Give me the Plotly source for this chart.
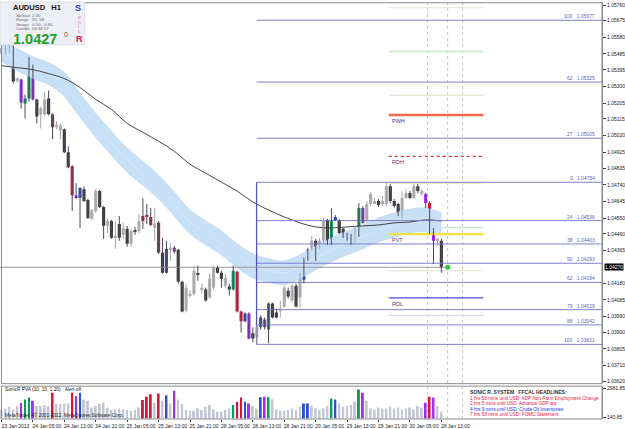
import plotly.graph_objects as go

# ---------------- data ----------------
bar_idx = list(range(113))
opens = [
    1.05487, 1.05487, 1.05509, 1.05514, 1.05333, 1.05339, 1.05203, 1.05231, 1.05418, 1.05226,
    1.05141, 1.05141, 1.05231, 1.05141, 1.05067, 1.05050, 1.05056, 1.04925, 1.04846, 1.04681,
    1.04664, 1.04715, 1.04653, 1.04545, 1.04591, 1.04704, 1.04613, 1.04506, 1.04534, 1.04438,
    1.04517, 1.04455, 1.04489, 1.04404, 1.04483, 1.04477, 1.04562, 1.04568, 1.04557, 1.04494,
    1.04523, 1.04353, 1.04239, 1.04370, 1.04381, 1.04370, 1.04188, 1.04024, 1.04109, 1.04120,
    1.04234, 1.04143, 1.04143, 1.04098, 1.04154, 1.04268, 1.04239, 1.04165, 1.04160, 1.04143,
    1.04245, 1.04018, 1.03962, 1.04007, 1.03894, 1.03871, 1.03928, 1.03973, 1.03916, 1.04064,
    1.04013, 1.04024, 1.04047, 1.04137, 1.04081, 1.04165, 1.04098, 1.04199, 1.04313, 1.04375,
    1.04421, 1.04381, 1.04421, 1.04534, 1.04404, 1.04540, 1.04534, 1.04489, 1.04460, 1.04449,
    1.04409, 1.04449, 1.04608, 1.04534, 1.04630, 1.04636, 1.04647, 1.04630, 1.04630, 1.04732,
    1.04647, 1.04630, 1.04562, 1.04664, 1.04693, 1.04664, 1.04732, 1.04687, 1.04687, 1.04636,
    1.04489, 1.04421, 1.04421]
highs = [
    1.05531, 1.05537, 1.05548, 1.05537, 1.05350, 1.05345, 1.05254, 1.05469, 1.05424, 1.05231,
    1.05186, 1.05271, 1.05277, 1.05146, 1.05101, 1.05090, 1.05061, 1.04959, 1.04851, 1.04749,
    1.04727, 1.04732, 1.04659, 1.04602, 1.04715, 1.04710, 1.04619, 1.04545, 1.04540, 1.04534,
    1.04562, 1.04523, 1.04506, 1.04489, 1.04500, 1.04574, 1.04664, 1.04630, 1.04608, 1.04608,
    1.04534, 1.04438, 1.04421, 1.04409, 1.04392, 1.04375, 1.04194, 1.04177, 1.04137, 1.04279,
    1.04279, 1.04177, 1.04154, 1.04234, 1.04279, 1.04279, 1.04251, 1.04234, 1.04177, 1.04279,
    1.04251, 1.04024, 1.04013, 1.04013, 1.03928, 1.03939, 1.03996, 1.03984, 1.04069, 1.04069,
    1.04035, 1.04081, 1.04165, 1.04154, 1.04177, 1.04177, 1.04239, 1.04324, 1.04381, 1.04449,
    1.04432, 1.04438, 1.04551, 1.04545, 1.04608, 1.04568, 1.04545, 1.04494, 1.04466, 1.04460,
    1.04506, 1.04636, 1.04619, 1.04647, 1.04698, 1.04664, 1.04659, 1.04676, 1.04754, 1.04744,
    1.04659, 1.04636, 1.04704, 1.04715, 1.04704, 1.04744, 1.04744, 1.04715, 1.04693, 1.04647,
    1.04494, 1.04438, 1.04432]
lows = [
    1.05475, 1.05481, 1.05492, 1.05317, 1.05322, 1.05174, 1.05118, 1.05214, 1.05220, 1.05090,
    1.05061, 1.05129, 1.05135, 1.04999, 1.05056, 1.04999, 1.04920, 1.04834, 1.04591, 1.04659,
    1.04494, 1.04642, 1.04545, 1.04540, 1.04579, 1.04608, 1.04432, 1.04466, 1.04432, 1.04375,
    1.04421, 1.04432, 1.04387, 1.04387, 1.04455, 1.04466, 1.04489, 1.04517, 1.04506, 1.04421,
    1.04347, 1.04234, 1.04234, 1.04307, 1.04347, 1.04177, 1.04013, 1.04013, 1.04098, 1.04109,
    1.04194, 1.04120, 1.04075, 1.04092, 1.04143, 1.04234, 1.04154, 1.04154, 1.04109, 1.04137,
    1.04013, 1.03899, 1.03956, 1.03860, 1.03843, 1.03831, 1.03916, 1.03916, 1.03837, 1.03979,
    1.03979, 1.03984, 1.04041, 1.04092, 1.04069, 1.04041, 1.04041, 1.04177, 1.04307, 1.04364,
    1.04307, 1.04375, 1.04409, 1.04398, 1.04398, 1.04534, 1.04460, 1.04438, 1.04421, 1.04398,
    1.04404, 1.04443, 1.04517, 1.04523, 1.04619, 1.04630, 1.04613, 1.04619, 1.04619, 1.04636,
    1.04608, 1.04562, 1.04551, 1.04659, 1.04659, 1.04659, 1.04693, 1.04676, 1.04608, 1.04460,
    1.04290, 1.04392, 1.04239]
closes = [
    1.05520, 1.05514, 1.05537, 1.05328, 1.05345, 1.05208, 1.05231, 1.05424, 1.05226, 1.05129,
    1.05174, 1.05226, 1.05141, 1.05067, 1.05084, 1.05078, 1.04925, 1.04840, 1.04681, 1.04664,
    1.04721, 1.04647, 1.04551, 1.04596, 1.04704, 1.04613, 1.04506, 1.04534, 1.04438, 1.04449,
    1.04438, 1.04494, 1.04404, 1.04477, 1.04472, 1.04534, 1.04534, 1.04557, 1.04511, 1.04517,
    1.04353, 1.04239, 1.04375, 1.04381, 1.04358, 1.04188, 1.04018, 1.04154, 1.04115, 1.04251,
    1.04228, 1.04154, 1.04081, 1.04205, 1.04268, 1.04239, 1.04205, 1.04211, 1.04143, 1.04251,
    1.04018, 1.03962, 1.04007, 1.03865, 1.03865, 1.03928, 1.03984, 1.03928, 1.04064, 1.03984,
    1.03984, 1.04035, 1.04154, 1.04103, 1.04165, 1.04047, 1.04234, 1.04313, 1.04370, 1.04421,
    1.04319, 1.04421, 1.04534, 1.04404, 1.04534, 1.04557, 1.04466, 1.04449, 1.04432, 1.04409,
    1.04460, 1.04608, 1.04523, 1.04630, 1.04687, 1.04647, 1.04625, 1.04647, 1.04732, 1.04647,
    1.04619, 1.04574, 1.04664, 1.04693, 1.04664, 1.04732, 1.04704, 1.04704, 1.04636, 1.04489,
    1.04421, 1.04432, 1.04270]
# PVA class per bar: g=normal up, k=normal down, r=climax bear, G=climax bull, b=rising bull, p=rising bear
pva = list("gggkgpGGpk" "ggkrggkkrp" "bkkggkkgkg" "kgkgkgrrrg" "rkbgpkkggg"
           "kgkggkkgkG" "rrbpkgbpGk" "kggkgkgbbg" "kggkGbkkkk" "gGpgggkggk"
           "kkggkgkgpr" "pgk")
volume = [
    823, 987, 1150, 889, 1215, 1542, 1869, 2065, 1738, 1215,
    1215, 1313, 1215, 2522, 1411, 1411, 1477, 1477, 2522, 2195,
    2522, 1869, 1738, 1085, 1215, 1411, 1542, 1085, 823, 889,
    987, 889, 823, 758, 823, 1085, 1803, 2130, 2391, 1542,
    2457, 1738, 2293, 1477, 2718, 1869, 1411, 823, 758, 758,
    987, 823, 1150, 1313, 889, 660, 660, 823, 987, 1313,
    1640, 2065, 1640, 1477, 1215, 987, 2097, 2130, 2097, 1869,
    889, 758, 758, 823, 987, 823, 1150, 1477, 1477, 1215,
    987, 823, 987, 1215, 1967, 1869, 1477, 1150, 1215, 1313,
    1640, 2849, 2522, 1738, 987, 889, 1085, 987, 987, 1150,
    987, 1085, 889, 987, 1085, 889, 1215, 1085, 1542, 2130,
    2065, 1215, 660]

band_x = list(range(0, 113, 4))
band_hi = [1.05554, 1.05515, 1.05469, 1.05435, 1.05379, 1.05260, 1.05146, 1.05044, 1.04948, 1.04874,
           1.04795, 1.04698, 1.04596, 1.04534, 1.04477, 1.04404, 1.04347, 1.04319, 1.04307, 1.04341,
           1.04392, 1.04438, 1.04477, 1.04511, 1.04551, 1.04579, 1.04602, 1.04608, 1.04579]
band_lo = [1.05441, 1.05390, 1.05345, 1.05311, 1.05243, 1.05124, 1.05010, 1.04908, 1.04812, 1.04738,
           1.04659, 1.04562, 1.04460, 1.04398, 1.04341, 1.04268, 1.04211, 1.04183, 1.04171, 1.04205,
           1.04256, 1.04302, 1.04341, 1.04375, 1.04415, 1.04443, 1.04466, 1.04472, 1.04455]
band_mid = [1.05498, 1.05452, 1.05407, 1.05373, 1.05311, 1.05192, 1.05078, 1.04976, 1.04880, 1.04806,
            1.04727, 1.04630, 1.04528, 1.04466, 1.04409, 1.04336, 1.04279, 1.04251, 1.04239, 1.04273,
            1.04324, 1.04370, 1.04409, 1.04443, 1.04483, 1.04511, 1.04534, 1.04540, 1.04517]
ma_slow = [1.05418, 1.05407, 1.05396, 1.05373, 1.05345, 1.05294, 1.05226, 1.05169, 1.05090, 1.05039,
           1.04988, 1.04931, 1.04857, 1.04806, 1.04755, 1.04704, 1.04642, 1.04596, 1.04557, 1.04523,
           1.04500, 1.04494, 1.04500, 1.04506, 1.04511, 1.04523, 1.04528, 1.04540, 1.04534]

fib_anchor_bar = 65
fib_levels = ["100", "62", "27", "0", "24", "38", "50", "62", "79", "88", "100"]
fib_prices = [1.05677, 1.05325, 1.05005, 1.04754, 1.04536, 1.04403, 1.04293, 1.04184, 1.04029, 1.03942, 1.03831]

level_names = ["PWH", "RDH", "PVT", "RDL"]
level_prices = [1.05137, 1.04902, 1.04459, 1.04096]
aux_prices = [1.05749, 1.05499, 1.05250, 1.04748, 1.04496, 1.04251, 1.03996]

bid_price = 1.04270
price_ticks = [1.05760, 1.05675, 1.05580, 1.05485, 1.05395, 1.05300, 1.05205, 1.05115, 1.05020,
               1.04925, 1.04835, 1.04740, 1.04645, 1.04550, 1.04460, 1.04365, 1.04180, 1.04085,
               1.03990, 1.03900, 1.03805, 1.03710, 1.03620]
vol_ticks = [140.85, 2981.85]
time_tick_bars = [0, 8, 16, 24, 32, 40, 48, 56, 64, 72, 80, 88, 96, 104, 112]
time_tick_labels = ["23 Jan 2013", "24 Jan 05:00", "24 Jan 13:00", "24 Jan 21:00", "25 Jan 05:00",
                    "25 Jan 13:00", "25 Jan 21:00", "28 Jan 05:00", "28 Jan 13:00", "28 Jan 21:00",
                    "29 Jan 05:00", "29 Jan 13:00", "29 Jan 21:00", "30 Jan 05:00", "28 Jan 13:00"]
headlines = ["1 hrs 53 mins until USD: ADP Non-Farm Employment Change",
             "2 hrs 5 mins until USD: Advance GDP q/q",
             "4 hrs 9 mins until USD: Crude Oil Inventories",
             "7 hrs 53 mins until USD: FOMC Statement"]

# ---------------- styling ----------------
FONT = "Liberation Sans, Arial, sans-serif"
PLOT_R, PLOT_B = 604.0, 419.0
def px(x): return x / PLOT_R
def py(y): return (PLOT_B - y) / PLOT_B

candle_col = {"g": "#b2b2b2", "k": "#3a3a3a", "r": "#dc143c", "G": "#0a9a5e",
              "b": "#2b4fd8", "p": "#a22cf0"}
vol_col = {"g": "#c3c7d3", "k": "#c3c7d3", "r": "#dc143c", "G": "#0a9a5e",
           "b": "#2b4fd8", "p": "#a22cf0"}
XMIN, XMAX = -0.38, 152.9
PIV_FROM, PIV_TO = 98.6, 122.7

fig = go.Figure()

# dragon band
fig.add_trace(go.Scatter(x=band_x, y=band_lo, mode="lines", line=dict(width=0.6, color="#b3d3f1", shape="spline"),
                         hoverinfo="skip", yaxis="y"))
fig.add_trace(go.Scatter(x=band_x, y=band_hi, mode="lines", line=dict(width=0.6, color="#b3d3f1", shape="spline"),
                         fill="tonexty", fillcolor="#c8e0f6", hoverinfo="skip", yaxis="y"))
fig.add_trace(go.Scatter(x=band_x, y=band_mid, mode="lines", line=dict(width=0.6, color="#deedfb", shape="spline"),
                         hoverinfo="skip", yaxis="y"))
# slow MA
fig.add_trace(go.Scatter(x=band_x, y=ma_slow, mode="lines", line=dict(width=0.9, color="#303030", shape="spline"),
                         hoverinfo="skip", yaxis="y"))

# pivot auxiliary faint lines
aux_cols = ["#e9e5d8", "#bdeebd", "#e9e5d8", "#efeac2", "#bdeebd", "#e9e5d8", "#dadaf2"]
aux_start = [PIV_FROM, PIV_FROM, PIV_FROM, PIV_FROM, 112.1, PIV_FROM, PIV_FROM]
for p, c, s in zip(aux_prices, aux_cols, aux_start):
    fig.add_trace(go.Scatter(x=[s, PIV_TO], y=[p, p], mode="lines", line=dict(width=1.4, color=c),
                             hoverinfo="skip", yaxis="y"))

# fibonacci
fx, fy = [], []
for p in fib_prices:
    fx += [fib_anchor_bar - 0.05, XMAX, None]
    fy += [p, p, None]
fig.add_trace(go.Scatter(x=fx, y=fy, mode="lines", line=dict(width=1, color="#7f7fd2"),
                         hoverinfo="skip", yaxis="y"))
fig.add_trace(go.Scatter(x=[fib_anchor_bar - 0.05] * 2, y=[fib_prices[3], fib_prices[-1]], mode="lines",
                         line=dict(width=1.3, color="#5555b5"), hoverinfo="skip", yaxis="y"))

# pivot levels
lvl_style = {"PWH": ("#f4694e", 2.6, "solid"), "RDH": ("#e03030", 1.2, "dot"),
             "PVT": ("#f2e23a", 2.2, "solid"), "RDL": ("#4a4ad0", 1.4, "solid")}
for n, p in zip(level_names, level_prices):
    c, w, d = lvl_style[n]
    fig.add_trace(go.Scatter(x=[PIV_FROM, PIV_TO], y=[p, p], mode="lines", line=dict(width=w, color=c, dash=d),
                             hoverinfo="skip", yaxis="y"))

# bid line
fig.add_trace(go.Scatter(x=[XMIN, 113.1], y=[bid_price, bid_price], mode="lines",
                         line=dict(width=1, color="#9a9a9a"), hoverinfo="skip", yaxis="y"))

# wicks
wl_x, wl_y, wd_x, wd_y = [], [], [], []
for i, h, l, k in zip(bar_idx, highs, lows, pva):
    if k == "g":
        wl_x += [i, i, None]; wl_y += [l, h, None]
    else:
        wd_x += [i, i, None]; wd_y += [l, h, None]
fig.add_trace(go.Scatter(x=wl_x, y=wl_y, mode="lines", line=dict(width=1, color="#a4a4a4"),
                         hoverinfo="skip", yaxis="y"))
fig.add_trace(go.Scatter(x=wd_x, y=wd_y, mode="lines", line=dict(width=1, color="#4a4a58"),
                         hoverinfo="skip", yaxis="y"))
# bodies
bases = [min(o, c) for o, c in zip(opens, closes)]
hts = [max(abs(c - o), 0.00005) for o, c in zip(opens, closes)]
fig.add_trace(go.Bar(x=bar_idx, y=hts, base=bases, width=0.8,
                     marker=dict(color=[candle_col[k] for k in pva], line=dict(width=0)),
                     hoverinfo="skip", yaxis="y"))

# current price dot
fig.add_trace(go.Scatter(x=[113.6], y=[bid_price], mode="markers",
                         marker=dict(size=5, color="#22cc33"), hoverinfo="skip", yaxis="y"))

# volume panel
fig.add_trace(go.Bar(x=bar_idx, y=volume, width=0.5,
                     marker=dict(color=[vol_col[k] for k in pva], line=dict(width=0)),
                     hoverinfo="skip", yaxis="y2"))

shapes = []
for vx in [108.5, 113.6, 117.4]:
    shapes.append(dict(type="line", xref="x", yref="paper", x0=vx, x1=vx, y0=0, y1=1,
                       line=dict(color="#c4c4c4", width=1, dash="dot"), layer="below"))
# panel frames
shapes.append(dict(type="rect", xref="paper", yref="paper", x0=px(1.5), x1=1, y0=py(383.5), y1=py(0.8),
                   line=dict(color="#8a8a8a", width=1)))
shapes.append(dict(type="rect", xref="paper", yref="paper", x0=px(1.5), x1=1, y0=py(419), y1=py(386),
                   line=dict(color="#8a8a8a", width=1)))
# info panel
shapes.append(dict(type="rect", xref="paper", yref="paper", x0=0, x1=px(85), y0=py(43), y1=1,
                   fillcolor="#eeeff5", line=dict(color="#dcdce6", width=1), layer="above"))

ann = []
def A(text, x, y, size=5, color="#202020", anchor="left", bold=False, **kw):
    t = f"<b>{text}</b>" if bold else text
    ann.append(dict(text=t, x=px(x), y=py(y), xref="paper", yref="paper", xanchor=anchor,
                    yanchor="middle", showarrow=False, font=dict(size=size, color=color, family=FONT), **kw))

A("AUDUSD\u00a0\u00a0\u00a0H1", 11, 6, 7.5, "#111111", bold=True)
A("S", 73, 6, 9, "#2233dd", bold=True)
for j, (t, v) in enumerate([("Spread", "2.00"), ("Range", "95, 58"), ("Swaps", "0.50, -0.80"),
                            ("Candle", "00:36:57")]):
    A(t, 14, 13.5 + 4.5 * j, 4.3, "#666676")
    A(v, 30, 13.5 + 4.5 * j, 4.3, "#666676")
for j, ch in enumerate("onic"):
    A(ch, 76, 15 + 4.6 * j, 5, "#e07898")
A("1.0427", 11, 37, 14.5, "#22a022", bold=True)
A("0", 62, 33, 7, "#505050")
A("R", 74, 37.5, 9, "#e0104a", bold=True)

A("SonicR PVA (10, 10, 1.20)\u00a0\u00a0\u00a0Alert off.", 3, 389.5, 4.8)
A("MetaTrader 4\u00a9 2001-2012, MetaQuotes Software Corp.", 3, 415, 4.8)
A("SONIC R. SYSTEM\u00a0\u00a0\u00a0FFCAL HEADLINES:", 470, 392, 5, "#303040", bold=True)
hl_cols = ["#e8103c", "#e8103c", "#1a2ae8", "#e8103c"]
for j, (t, c) in enumerate(zip(headlines, hl_cols)):
    A(t, 470, 398 + 5.5 * j, 4.7, c)

# fib labels
for lv, p in zip(fib_levels, fib_prices):
    ann.append(dict(text=f"{lv}\u00a0\u00a0\u00a0{p:.5f}", x=px(599), y=p, xref="paper", yref="y",
                    xanchor="right", yanchor="bottom", showarrow=False, yshift=-1,
                    font=dict(size=5, color="#5f5fc0", family=FONT)))
# level labels
for n, p in zip(level_names, level_prices):
    ann.append(dict(text=n, x=PIV_FROM + 0.3, y=p, xref="x", yref="y", xanchor="left", yanchor="top",
                    showarrow=False, yshift=-1, font=dict(size=5.5, color="#3a3a8a", family=FONT)))
# current price box
ann.append(dict(text=f"{bid_price:.5f}", x=1, y=bid_price, xref="paper", yref="y", xanchor="left",
                yanchor="middle", xshift=2, showarrow=False, bgcolor="#000000", borderpad=0,
                font=dict(size=5, color="#ffffff", family=FONT)))

main_dom0 = py(383)
fig.update_layout(
    width=625, height=429, margin=dict(l=0, r=21, t=0, b=10),
    paper_bgcolor="white", plot_bgcolor="white", showlegend=False, barmode="overlay",
    font=dict(family=FONT, size=5, color="#202020"),
    xaxis=dict(domain=[0, 1], range=[XMIN, XMAX], anchor="y2", showgrid=False, zeroline=False,
               tickvals=time_tick_bars, ticktext=time_tick_labels, ticks="outside", ticklen=2,
               tickcolor="#404040", tickfont=dict(size=5, color="#202020"), ticklabelshift=14,
               showline=False),
    yaxis=dict(domain=[main_dom0, 1], range=[1.03610, 1.05781], side="right", anchor="x",
               showgrid=False, zeroline=False, tickvals=price_ticks,
               ticktext=[f"{v:.5f}" for v in price_ticks], ticks="outside", ticklen=3,
               tickcolor="#404040", tickfont=dict(size=5, color="#202020"),
               showline=True, linecolor="#8a8a8a", linewidth=1),
    yaxis2=dict(domain=[0, py(387)], range=[-55.1, 3079.8], side="right", anchor="x",
                showgrid=False, zeroline=False, tickvals=vol_ticks,
                ticktext=[f"{v:.2f}" for v in vol_ticks], ticks="outside", ticklen=3,
                tickcolor="#404040", tickfont=dict(size=5, color="#202020"),
                showline=True, linecolor="#8a8a8a", linewidth=1),
    shapes=shapes, annotations=ann,
)

fig.write_html("out.html", config={"displayModeBar": False})
